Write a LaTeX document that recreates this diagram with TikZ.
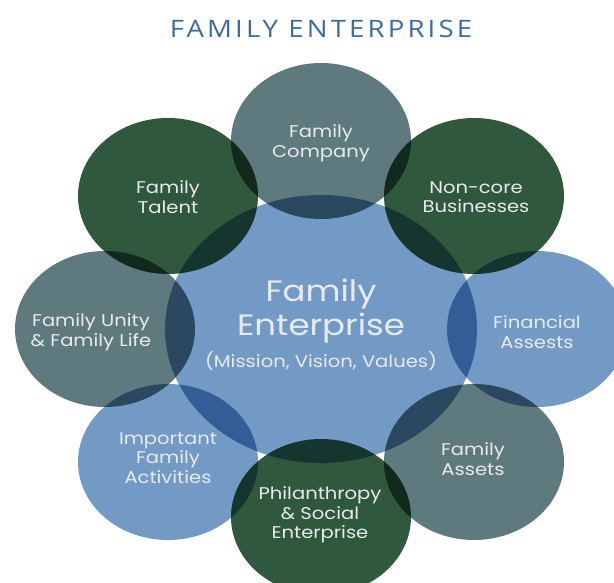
\documentclass[tikz,border=0pt]{standalone}
\usepackage{fontspec}
\setmainfont{Poppins}[FakeStretch=1.15]
\newfontfamily\titlefont{Open Sans}[FakeStretch=1.15, LetterSpace=13]
\usetikzlibrary{shapes.geometric}

\definecolor{famgreen}{HTML}{2F583C}
\definecolor{famslate}{HTML}{5F7A7E}
\definecolor{famblue}{HTML}{739AC4}
\definecolor{famtitle}{HTML}{3D6B9E}
\definecolor{famtext}{HTML}{E8EBEE}

\begin{document}
\begin{tikzpicture}[x=1pt,y=-1pt,
  petal/.style={ellipse, minimum width=180pt, minimum height=156pt, inner sep=0pt, draw=none},
  hub/.style={ellipse, minimum width=312pt, minimum height=268pt, inner sep=0pt, draw=none},
  label/.style={align=center, text=famtext, inner sep=0pt, font=\fontsize{17}{19.5}\selectfont},
]
\useasboundingbox (0,0) rectangle (614,583);
\clip (0,0) rectangle (614,583);

% overlapping discs, multiplied so the overlaps darken
\begin{scope}[blend mode=multiply]
  \node[hub, fill=famblue] (hub) at (321,329) {};
  \node[petal, fill=famslate] (company)    at (321,141) {};
  \node[petal, fill=famgreen] (noncore)    at (474,196) {};
  \node[petal, fill=famblue]  (financial)  at (537,329) {};
  \node[petal, fill=famslate] (assets)     at (474,462) {};
  \node[petal, fill=famgreen] (philan)     at (321,517) {};
  \node[petal, fill=famblue]  (activities) at (168,462) {};
  \node[petal, fill=famslate] (unity)      at (105,329) {};
  \node[petal, fill=famgreen] (talent)     at (168,196) {};
\end{scope}

% title
\node[text=famtitle, font=\titlefont\fontsize{24}{27}\selectfont, inner sep=0pt] (title) at (321,29) {FAMILY ENTERPRISE};

% centre text
\node[label, font=\fontsize{29.5}{34}\selectfont] (hubname) at (321,311) {Family\\Enterprise};
\node[label, font=\fontsize{17}{19}\selectfont] (hubsub) at (321,361) {(Mission, Vision, Values)};

% petal texts
\node[label] (tcompany)    at (321,143) {Family\\Company};
\node[label] (tnoncore)    at (476,197) {Non-core\\Businesses};
\node[label] (tfinancial)  at (537,332) {Financial\\Assests};
\node[label] (tassets)     at (473,459) {Family\\Assets};
\node[label] (tphilan)     at (320,515) {Philanthropy\\\& Social\\Enterprise};
\node[label] (tactivities) at (168,458) {Important\\Family\\Activities};
\node[label] (tunity)      at (91,332)  {Family Unity\\\& Family Life};
\node[label] (ttalent)     at (168,197) {Family\\Talent};
\end{tikzpicture}
\end{document}
